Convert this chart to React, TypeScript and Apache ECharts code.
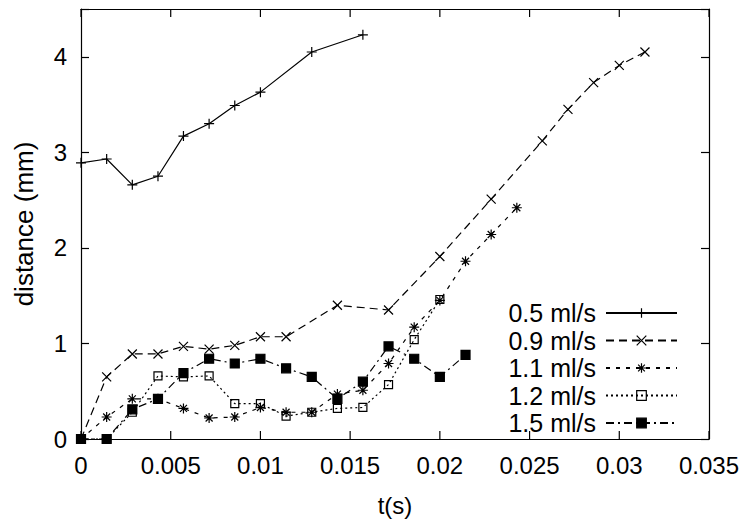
import React, { useEffect, useRef } from "react";
import * as echarts from "echarts";

// time (s) and distance (mm) for each flow rate
const t05 = [0, 0.00143, 0.00286, 0.00429, 0.00571, 0.00714, 0.00857, 0.01, 0.01286, 0.01571];
const d05 = [2.89, 2.93, 2.66, 2.75, 3.17, 3.30, 3.49, 3.63, 4.05, 4.23];

const t09 = [0, 0.00143, 0.00286, 0.00429, 0.00571, 0.00714, 0.00857, 0.01, 0.01143, 0.01429, 0.01714, 0.02, 0.02286, 0.02571, 0.02714, 0.02857, 0.03, 0.03143];
const d09 = [0, 0.65, 0.89, 0.89, 0.97, 0.94, 0.98, 1.07, 1.07, 1.40, 1.35, 1.91, 2.51, 3.12, 3.45, 3.73, 3.91, 4.05];

const t11 = [0, 0.00143, 0.00286, 0.00429, 0.00571, 0.00714, 0.00857, 0.01, 0.01143, 0.01286, 0.01429, 0.01571, 0.01714, 0.01857, 0.02, 0.02143, 0.02286, 0.02429];
const d11 = [0, 0.23, 0.42, 0.42, 0.32, 0.22, 0.23, 0.33, 0.28, 0.28, 0.47, 0.51, 0.79, 1.17, 1.45, 1.86, 2.14, 2.42];

const t12 = [0, 0.00143, 0.00286, 0.00429, 0.00571, 0.00714, 0.00857, 0.01, 0.01143, 0.01286, 0.01429, 0.01571, 0.01714, 0.01857, 0.02];
const d12 = [0, 0, 0.28, 0.66, 0.65, 0.66, 0.37, 0.37, 0.24, 0.28, 0.32, 0.33, 0.57, 1.04, 1.46];

const t15 = [0, 0.00143, 0.00286, 0.00429, 0.00571, 0.00714, 0.00857, 0.01, 0.01143, 0.01286, 0.01429, 0.01571, 0.01714, 0.01857, 0.02, 0.02143];
const d15 = [0, 0, 0.31, 0.42, 0.69, 0.84, 0.79, 0.84, 0.74, 0.65, 0.42, 0.60, 0.97, 0.84, 0.65, 0.88];

const seriesNames = ["0.5 ml/s", "0.9 ml/s", "1.1 ml/s", "1.2 ml/s", "1.5 ml/s"];
const xTickValues = [0, 0.005, 0.01, 0.015, 0.02, 0.025, 0.03, 0.035];
const xTicks = { min: 0, max: 0.035, interval: 0.005 };
const yTicks = { min: 0, max: 4.5, interval: 1 };

const FONT = "Liberation Sans, Arial, sans-serif";

const PLUS = "path://M0 5L10 5M5 0L5 10";
const CROSS = "path://M0 0L10 10M10 0L0 10";
const STAR = "path://M0 5L10 5M5 0L5 10M1.5 1.5L8.5 8.5M8.5 1.5L1.5 8.5";

function pairs(t: number[], d: number[]) {
  return t.map((v, i) => [v, d[i]]);
}

export default function App() {
  const ref = useRef<HTMLDivElement>(null);
  useEffect(() => {
    if (!ref.current) return;
    const chart = echarts.init(ref.current, null, { renderer: "svg" });

    const styles = [
      { symbol: PLUS, size: 10, dash: "solid" as any, fill: "transparent" },
      { symbol: CROSS, size: 9, dash: [8, 5], fill: "transparent" },
      { symbol: STAR, size: 10, dash: [4, 6], fill: "transparent" },
      { symbol: "rect", size: 8, dash: [2, 3], fill: "transparent" },
      { symbol: "rect", size: 9, dash: [8, 4, 2, 4], fill: "#000" },
    ];
    const datas = [pairs(t05, d05), pairs(t09, d09), pairs(t11, d11), pairs(t12, d12), pairs(t15, d15)];

    const axisLine = { show: true, onZero: false, lineStyle: { color: "#000", width: 1.2 } };
    const yTick = { show: true, inside: true, length: 8, lineStyle: { color: "#000", width: 1.2 } };

    const mainSeries = seriesNames.map((n, i) => ({
      type: "line",
      name: n,
      data: datas[i],
      xAxisIndex: 0,
      yAxisIndex: 0,
      showSymbol: true,
      symbol: styles[i].symbol,
      symbolSize: styles[i].size,
      clip: false,
      lineStyle: { color: "#000", width: 1.2, type: styles[i].dash },
      itemStyle: { color: styles[i].fill, borderColor: "#000", borderWidth: 1.2 },
      emphasis: { disabled: true },
    }));

    // inward tick marks on the bottom and top edges, placed through the x scale
    const xTickSeries = {
      type: "custom",
      name: "xticks",
      xAxisIndex: 0,
      yAxisIndex: 0,
      silent: true,
      clip: false,
      data: xTickValues.map((v) => [v, yTicks.min]),
      renderItem: (_params: any, api: any) => {
        const v = api.value(0);
        const b = api.coord([v, yTicks.min]);
        const t = api.coord([v, yTicks.max]);
        const st = { stroke: "#000", lineWidth: 1.2 };
        return {
          type: "group",
          children: [
            { type: "line", shape: { x1: b[0], y1: b[1], x2: b[0], y2: b[1] - 8 }, style: st },
            { type: "line", shape: { x1: t[0], y1: t[1], x2: t[0], y2: t[1] + 8 }, style: st },
          ],
        };
      },
    };

    chart.setOption({
      animation: false,
      backgroundColor: "#fff",
      textStyle: { fontFamily: FONT },
      grid: {
        left: 81, right: 38, top: 9, bottom: 82, containLabel: false, outerBoundsMode: "none",
      },
      xAxis: [
        {
          type: "value",
          ...xTicks,
          position: "bottom",
          axisLine,
          axisTick: { show: false },
          splitLine: { show: false },
          axisLabel: {
            color: "#000",
            fontSize: 24,
            fontFamily: FONT,
            margin: 14,
            formatter: (v: number) => String(+v.toFixed(4)),
          },
          name: "t(s)",
          nameLocation: "middle",
          nameGap: 54,
          nameTextStyle: { color: "#000", fontSize: 24, fontFamily: FONT },
        },
        {
          type: "value",
          ...xTicks,
          position: "top",
          axisLine,
          axisTick: { show: false },
          splitLine: { show: false },
          axisLabel: { show: false },
        },
      ],
      yAxis: [
        {
          type: "value",
          ...yTicks,
          position: "left",
          axisLine,
          axisTick: yTick,
          splitLine: { show: false },
          axisLabel: {
            color: "#000",
            fontSize: 24,
            fontFamily: FONT,
            margin: 14,
            formatter: (v: number) => (v > 4.2 ? "" : String(v)),
          },
          name: "distance (mm)",
          nameLocation: "middle",
          nameGap: 44,
          nameRotate: 90,
          nameTextStyle: { color: "#000", fontSize: 26, fontFamily: FONT },
        },
        {
          type: "value",
          ...yTicks,
          position: "right",
          axisLine,
          axisTick: yTick,
          splitLine: { show: false },
          axisLabel: { show: false },
        },
      ],
      legend: {
        orient: "vertical",
        right: 69,
        top: 300,
        padding: 0,
        align: "right",
        itemWidth: 71,
        itemHeight: 12,
        itemGap: 1.5,
        textStyle: { color: "#000", fontSize: 25, fontFamily: FONT, lineHeight: 26, padding: [0, 5, 0, 0] },
        data: seriesNames.map((n, i) => ({
          name: n,
          itemStyle: { color: styles[i].fill, borderColor: "#000", borderWidth: 1.2 },
        })),
      },
      series: [
        ...mainSeries,
        {
          type: "line",
          name: "mirror",
          data: datas[0],
          xAxisIndex: 1,
          yAxisIndex: 1,
          silent: true,
          symbol: "none",
          lineStyle: { opacity: 0 },
          itemStyle: { opacity: 0 },
        },
        xTickSeries,
      ],
    });
    return () => chart.dispose();
  }, []);
  return <div ref={ref} style={{ position: "fixed", left: 0, top: 0, width: 747, height: 521 }} />;
}
